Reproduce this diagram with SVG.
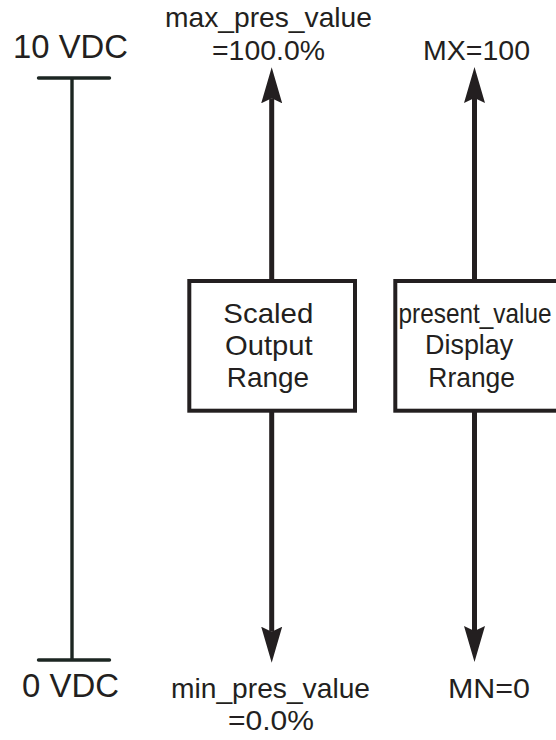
<svg xmlns="http://www.w3.org/2000/svg" width="556" height="740" viewBox="0 0 556 740">
  <style>
    .t { font-family: "Liberation Sans", Arial, sans-serif; fill: #231f20; }
    .lbl { font-size: 28px; }
    .big { font-size: 33px; }
    .box { fill: #ffffff; stroke: #231f20; stroke-width: 4; }
    .shaft { stroke: #231f20; stroke-width: 5; fill: none; }
    .scale { stroke: #1c2622; stroke-width: 3.4; fill: none; }
  </style>
  <defs>
    <marker id="head" markerUnits="userSpaceOnUse" markerWidth="40" markerHeight="24" refX="5" refY="11" orient="auto" viewBox="0 0 40 24">
      <path d="M0,0.5 L36,11 L0,21.5 L5,11 Z" fill="#231f20"/>
    </marker>
  </defs>
  <rect width="556" height="740" fill="#ffffff"/>

  <g id="voltage-scale">
    <line class="scale" x1="72" y1="78" x2="72" y2="660"/>
    <line class="scale" x1="38.5" y1="78" x2="109.5" y2="78" stroke-linecap="round"/>
    <line class="scale" x1="38.5" y1="660" x2="109.5" y2="660" stroke-linecap="round"/>
    <text class="t big" x="13" y="57.7" textLength="115" lengthAdjust="spacingAndGlyphs">10 VDC</text>
    <text class="t big" x="22" y="697" textLength="97" lengthAdjust="spacingAndGlyphs">0 VDC</text>
  </g>

  <g id="connectors">
    <line class="shaft" x1="271.7" y1="281" x2="271.7" y2="98.3" marker-end="url(#head)"/>
    <line class="shaft" x1="271.7" y1="410.7" x2="271.7" y2="631.7" marker-end="url(#head)"/>
    <line class="shaft" x1="474.5" y1="281" x2="474.5" y2="98" marker-end="url(#head)"/>
    <line class="shaft" x1="474.5" y1="410.7" x2="474.5" y2="631" marker-end="url(#head)"/>
  </g>

  <g id="scaled-output-range">
    <rect class="box" x="189.3" y="281" width="165.7" height="129.7"/>
    <text class="t lbl" x="268.3" y="323.3" text-anchor="middle" textLength="90" lengthAdjust="spacingAndGlyphs">Scaled</text>
    <text class="t lbl" x="268.8" y="355" text-anchor="middle" textLength="87.7" lengthAdjust="spacingAndGlyphs">Output</text>
    <text class="t lbl" x="268" y="387.3" text-anchor="middle" textLength="82.3" lengthAdjust="spacingAndGlyphs">Range</text>
  </g>

  <g id="display-range">
    <rect class="box" x="395.3" y="281" width="175" height="129.7"/>
    <text class="t lbl" x="398.5" y="323.3" textLength="153" lengthAdjust="spacingAndGlyphs">present_value</text>
    <text class="t lbl" x="425" y="353.5" textLength="88.3" lengthAdjust="spacingAndGlyphs">Display</text>
    <text class="t lbl" x="428.3" y="387.3" textLength="86.7" lengthAdjust="spacingAndGlyphs">Rrange</text>
  </g>

  <g id="max-label">
    <text class="t lbl" x="165" y="27" textLength="207" lengthAdjust="spacingAndGlyphs">max_pres_value</text>
    <text class="t lbl" x="212" y="60" textLength="113" lengthAdjust="spacingAndGlyphs">=100.0%</text>
  </g>
  <g id="mx-label">
    <text class="t lbl" x="423" y="60" textLength="107" lengthAdjust="spacingAndGlyphs">MX=100</text>
  </g>
  <g id="min-label">
    <text class="t lbl" x="171" y="698.3" textLength="199" lengthAdjust="spacingAndGlyphs">min_pres_value</text>
    <text class="t lbl" x="228" y="730" textLength="86" lengthAdjust="spacingAndGlyphs">=0.0%</text>
  </g>
  <g id="mn-label">
    <text class="t lbl" x="448" y="698.3" textLength="82" lengthAdjust="spacingAndGlyphs">MN=0</text>
  </g>
</svg>
